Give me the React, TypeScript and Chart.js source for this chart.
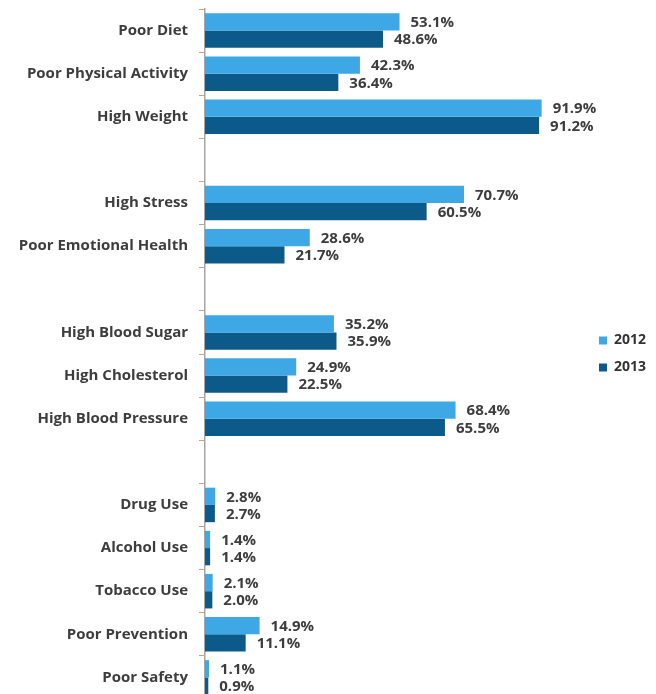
import React, { useEffect, useRef } from "react";
import { Chart, registerables } from "chart.js";

Chart.register(...registerables);

const categories = [
  "Poor Diet",
  "Poor Physical Activity",
  "High Weight",
  "",
  "High Stress",
  "Poor Emotional Health",
  "",
  "High Blood Sugar",
  "High Cholesterol",
  "High Blood Pressure",
  "",
  "Drug Use",
  "Alcohol Use",
  "Tobacco Use",
  "Poor Prevention",
  "Poor Safety",
];

const values2012 = [53.1, 42.3, 91.9, null, 70.7, 28.6, null, 35.2, 24.9, 68.4, null, 2.8, 1.4, 2.1, 14.9, 1.1];
const values2013 = [48.6, 36.4, 91.2, null, 60.5, 21.7, null, 35.9, 22.5, 65.5, null, 2.7, 1.4, 2.0, 11.1, 0.9];

const seriesNames = ["2012", "2013"];
const seriesColors = ["#3ea8e6", "#0c5a8a"];

const valueLabels = {
  id: "valueLabels",
  afterDatasetsDraw(chart: any) {
    const ctx = chart.ctx;
    ctx.save();
    ctx.font = "bold 15px 'Open Sans'";
    ctx.fillStyle = "#3d3d3d";
    ctx.textAlign = "left";
    ctx.textBaseline = "middle";
    chart.data.datasets.forEach((ds: any, di: number) => {
      const meta = chart.getDatasetMeta(di);
      meta.data.forEach((bar: any, i: number) => {
        const v = ds.data[i];
        if (v === null || v === undefined) return;
        ctx.fillText(v.toFixed(1) + "%", bar.x + 11, bar.y + 1);
      });
    });
    ctx.restore();
  },
};

export default function App() {
  const ref = useRef<HTMLCanvasElement>(null);
  useEffect(() => {
    if (!ref.current) return;
    const chart = new Chart(ref.current, {
      type: "bar",
      data: {
        labels: categories,
        datasets: [
          { label: seriesNames[0], data: values2012, backgroundColor: seriesColors[0], categoryPercentage: 0.8, barPercentage: 1 },
          { label: seriesNames[1], data: values2013, backgroundColor: seriesColors[1], categoryPercentage: 0.8, barPercentage: 1 },
        ],
      },
      options: {
        indexAxis: "y",
        animation: false,
        responsive: false,
        maintainAspectRatio: false,
        layout: { padding: { top: 9, bottom: 1, left: 0, right: 0 } },
        plugins: {
          legend: {
            position: "right",
            align: "center",
            labels: {
              boxWidth: 8,
              boxHeight: 8,
              padding: 13,
              color: "#333",
              font: { family: "Open Sans", size: 14, weight: "bold" },
            },
          },
          tooltip: { enabled: false },
        },
        scales: {
          x: {
            display: false,
            min: 0,
            max: 104,
          },
          y: {
            afterFit(scale: any) {
              scale.width = 205;
              scale.paddingTop = 0;
              scale.paddingBottom = 0;
            },
            grid: {
              drawOnChartArea: false,
              drawTicks: true,
              tickLength: 6,
              color: "#c9a27e",
              offset: true,
            },
            border: { display: true, color: "#a6a6a6", width: 1.5 },
            ticks: {
              autoSkip: false,
              padding: 11,
              color: "#3d3d3d",
              font: { family: "Open Sans", size: 15, weight: "bold" },
            },
          },
        },
      },
      plugins: [valueLabels],
    });
    return () => chart.destroy();
  }, []);
  return (
    <div style={{ position: "fixed", left: 0, top: 0, width: 656, height: 694, overflow: "hidden", background: "#fff" }}>
      <canvas ref={ref} width={656} height={700} style={{ display: "block", width: 656, height: 700 }} />
    </div>
  );
}
